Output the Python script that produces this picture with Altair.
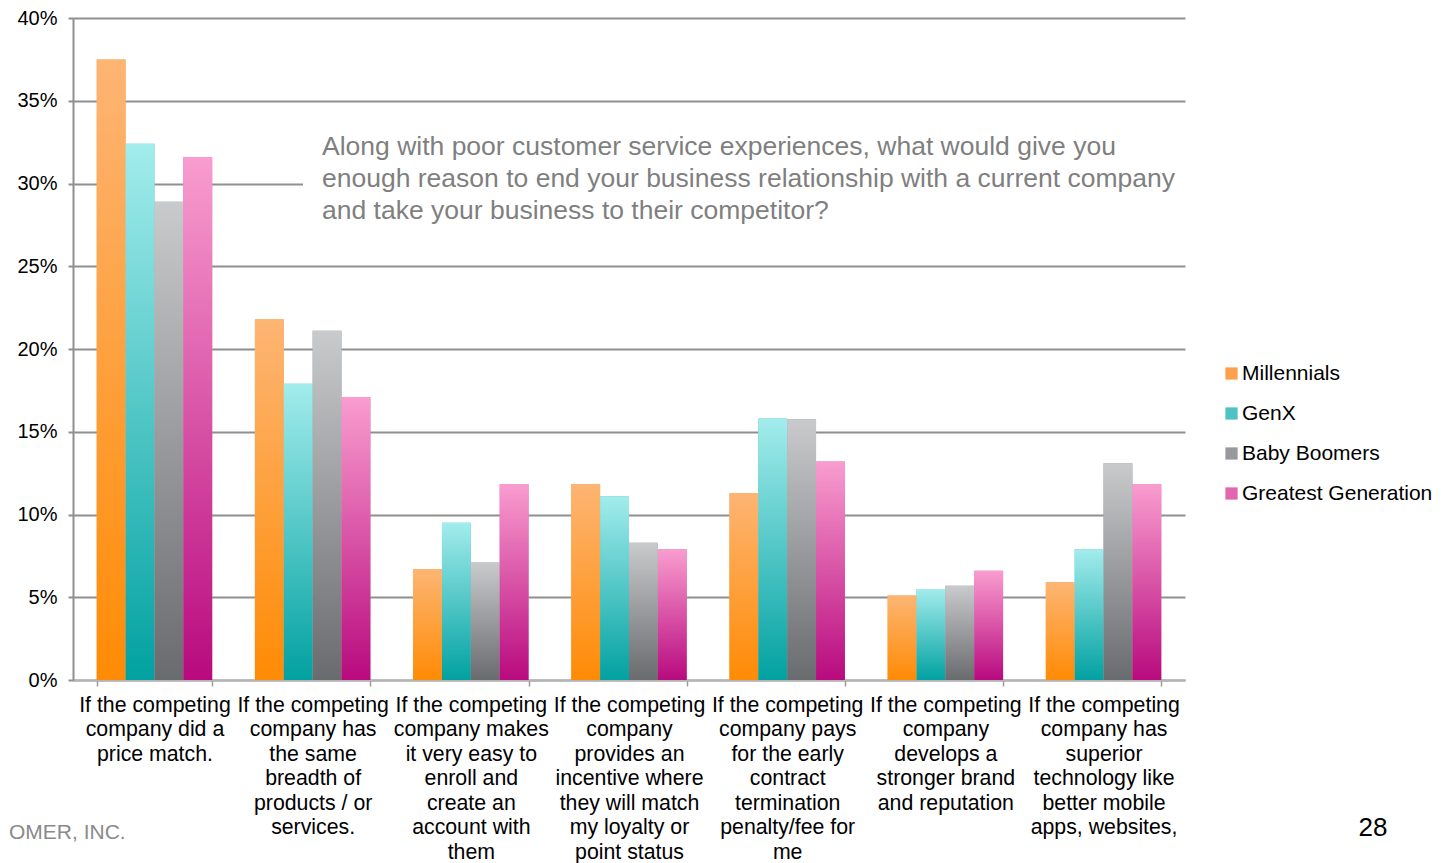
import altair as alt
import pandas as pd

categories = [
    "If the competing|company did a|price match.",
    "If the competing|company has|the same|breadth of|products / or|services.",
    "If the competing|company makes|it very easy to|enroll and|create an|account with|them",
    "If the competing|company|provides an|incentive where|they will match|my loyalty or|point status",
    "If the competing|company pays|for the early|contract|termination|penalty/fee for|me",
    "If the competing|company|develops a|stronger brand|and reputation",
    "If the competing|company has|superior|technology like|better mobile|apps, websites,",
]
series = ["Millennials", "GenX", "Baby Boomers", "Greatest Generation"]
millennials = [37.5, 21.8, 6.7, 11.85, 11.3, 5.1, 5.9]
genx = [32.4, 17.9, 9.5, 11.1, 15.8, 5.5, 7.9]
boomers = [28.9, 21.1, 7.1, 8.3, 15.75, 5.7, 13.1]
greatest = [31.6, 17.1, 11.85, 7.9, 13.2, 6.6, 11.85]
y_ticks = [0, 5, 10, 15, 20, 25, 30, 35, 40]

flat_colors = ["#FDA04E", "#4FC3C3", "#98999C", "#E267AE"]
gradients = [
    ("#FDB573", "#FF8B05"),
    ("#A3ECEC", "#02A1A1"),
    ("#C9CACC", "#6A6B6E"),
    ("#F99DCF", "#B80A7E"),
]
annotation = ("Along with poor customer service experiences, what would give you\n"
              "enough reason to end your business relationship with a current company\n"
              "and take your business to their competitor?")

rows = []
for s, vals in zip(series, [millennials, genx, boomers, greatest]):
    for c, v in zip(categories, vals):
        rows.append({"category": c, "series": s, "value": v})
df = pd.DataFrame(rows)

x_enc = alt.X("category:N", sort=categories,
              scale=alt.Scale(paddingInner=0.27, paddingOuter=0.15),
              axis=alt.Axis(title=None, labelAngle=0,
                            labelExpr="isValid(datum.value) ? split(datum.value, '|') : ''",
                            labelFontSize=21.3, labelLineHeight=24.5, labelLimit=0,
                            labelColor="#000000", labelOverlap=False, labelBound=False,
                            labelBaseline="top",
                            tickBand="extent", tickSize=6, tickColor="#9a9a9a", tickWidth=1.5,
                            domainColor="#b5b5b5", domainWidth=2, labelPadding=8, grid=False))
y_enc = alt.Y("value:Q", scale=alt.Scale(domain=[0, 40], nice=False),
              axis=alt.Axis(title=None, values=y_ticks, labelExpr="datum.value + '%'",
                            labelFontSize=20, labelColor="#000000", tickSize=5, labelPadding=11,
                            gridColor="#8f8f8f", gridWidth=2, domainColor="#8f8f8f",
                            domainWidth=2, tickColor="#8f8f8f", tickWidth=2))
xo_enc = alt.XOffset("series:N", sort=series,
                     scale=alt.Scale(domain=series, paddingInner=0, paddingOuter=0))

box = alt.Chart(alt.Data(values=[{}])).mark_rect(color="white").encode(
    x=alt.value(230), x2=alt.value(1125), y=alt.value(107), y2=alt.value(214))

base = alt.Chart(df).mark_bar().encode(
    x=x_enc, xOffset=xo_enc, y=y_enc,
    color=alt.Color("series:N", sort=series,
                    scale=alt.Scale(domain=series, range=flat_colors),
                    legend=alt.Legend(title=None, orient="none", legendX=1148, legendY=345,
                                      symbolType="square", symbolSize=150,
                                      symbolStrokeWidth=0, labelFontSize=21,
                                      labelColor="#000000", rowPadding=18, labelLimit=0,
                                      labelOffset=0, padding=0)))

layers = [box, base]
for s, (top, bottom) in zip(series, gradients):
    layers.append(
        alt.Chart(df).transform_filter(alt.datum.series == s).mark_bar(
            color=alt.Gradient(gradient="linear",
                               stops=[alt.GradientStop(color=top, offset=0),
                                      alt.GradientStop(color=bottom, offset=1)],
                               x1=0, x2=0, y1=0, y2=1)
        ).encode(x=x_enc, xOffset=xo_enc, y=y_enc)
    )

note = alt.Chart(alt.Data(values=[{"t": annotation}])).mark_text(
    align="left", baseline="middle", fontSize=26.5, color="#7f7f7f",
    lineBreak="\n", lineHeight=32).encode(
    x=alt.value(249), y=alt.value(129), text="t:N")

footer = alt.Chart(alt.Data(values=[{"t": "OMER, INC."}])).mark_text(
    align="left", baseline="middle", fontSize=21, color="#8a8a8a").encode(
    x=alt.value(-64), y=alt.value(815), text="t:N")

page = alt.Chart(alt.Data(values=[{"t": "28"}])).mark_text(
    align="center", baseline="middle", fontSize=26, color="#000000").encode(
    x=alt.value(1300), y=alt.value(810), text="t:N")

layers += [note, footer, page]

chart = alt.layer(*layers).properties(
    width=1112, height=662,
    autosize=alt.AutoSizeParams(type="none"),
    padding={"left": 65, "top": 10, "right": 254, "bottom": 183},
).configure(font="Liberation Sans").configure_view(stroke=None)

chart.save("out.html", embed_options={"renderer": "svg", "actions": False})
